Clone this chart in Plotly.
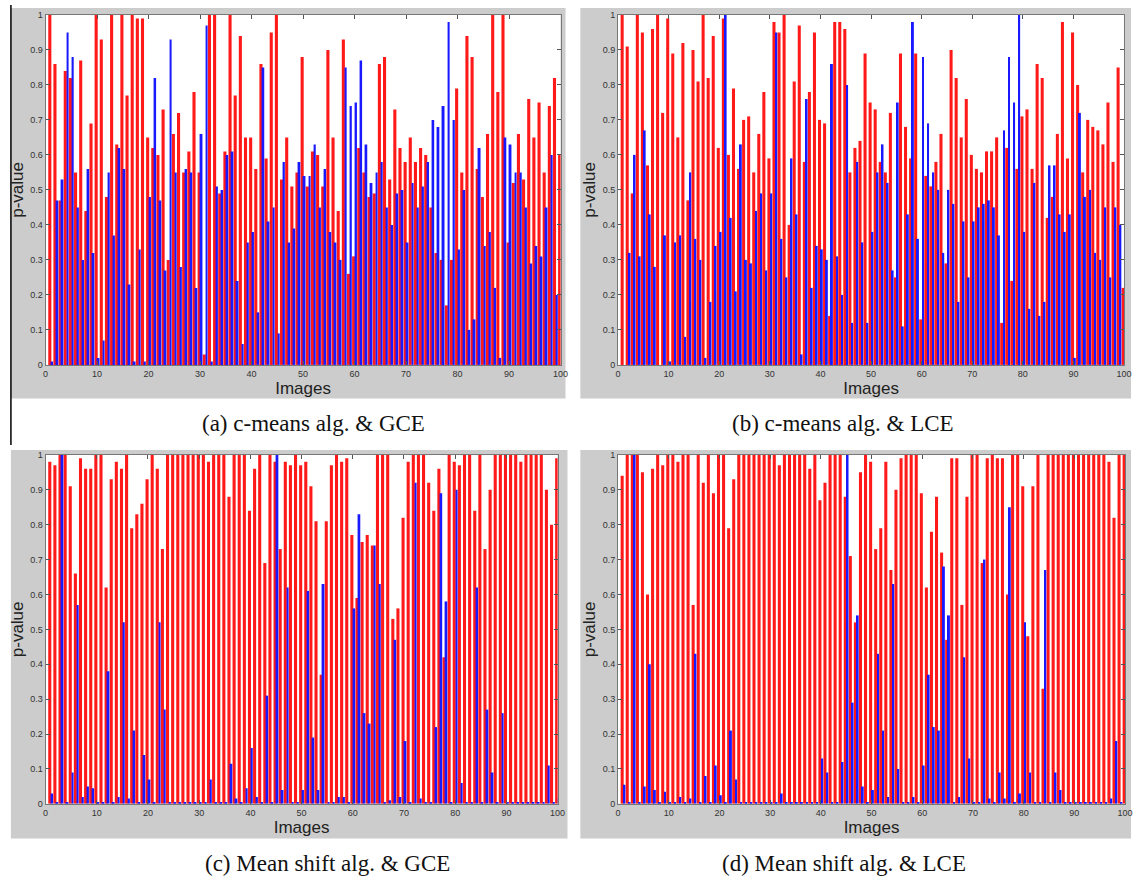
import plotly.graph_objects as go

images = list(range(1, 101))

# (a) c-means alg. & GCE
a_red = [1.0, 0.86, 0.47, 0.84, 0.82, 0.55, 0.87, 0.44, 0.69, 1.0,
         0.93, 0.48, 1.0, 0.63, 1.0, 0.77, 1.0, 0.99, 0.99, 0.65,
         0.62, 0.60, 0.73, 0.30, 0.66, 0.72, 0.55, 0.61, 0.78, 0.55,
         0.03, 1.0, 1.0, 0.49, 0.61, 1.0, 0.77, 0.94, 0.65, 0.65,
         0.56, 0.86, 0.59, 0.95, 1.0, 0.53, 0.65, 0.51, 0.55, 0.88,
         0.51, 0.61, 0.60, 0.51, 0.90, 0.65, 0.44, 0.93, 0.26, 0.31,
         0.62, 0.55, 0.48, 0.49, 0.86, 0.88, 0.53, 0.73, 0.62, 0.58,
         0.65, 0.58, 0.62, 0.60, 0.45, 0.32, 0.30, 0.17, 0.30, 0.79,
         0.55, 0.94, 0.88, 0.56, 0.48, 0.66, 1.0, 0.78, 1.0, 0.35,
         0.52, 0.66, 0.53, 0.76, 0.65, 0.75, 0.55, 0.74, 0.82, 0.60]
a_blue = [0.01, 0.47, 0.53, 0.95, 0.88, 0.45, 0.30, 0.56, 0.32, 0.02,
          0.07, 0.55, 0.37, 0.62, 0.56, 0.23, 0.01, 0.33, 0.01, 0.48,
          0.82, 0.47, 0.27, 0.93, 0.55, 0.28, 0.56, 0.55, 0.22, 0.66,
          0.97, 0.01, 0.51, 0.50, 0.60, 0.61, 0.24, 0.06, 0.35, 0.38,
          0.15, 0.85, 0.41, 0.45, 0.09, 0.58, 0.35, 0.39, 0.58, 0.54,
          0.54, 0.63, 0.45, 0.56, 0.38, 0.35, 0.30, 0.85, 0.74, 0.75,
          0.87, 0.63, 0.52, 0.55, 0.58, 0.45, 0.40, 0.49, 0.50, 0.35,
          0.52, 0.45, 0.51, 0.58, 0.70, 0.68, 0.74, 0.98, 0.70, 0.33,
          0.50, 0.10, 0.13, 0.62, 0.34, 0.38, 0.22, 0.02, 0.65, 0.63,
          0.55, 0.55, 0.45, 0.29, 0.34, 0.31, 0.45, 0.60, 0.20, 0.40]

# (b) c-means alg. & LCE
b_red = [1.0, 0.91, 0.49, 1.0, 0.95, 0.57, 0.96, 1.0, 0.72, 0.99,
         0.89, 0.65, 0.92, 0.47, 0.90, 0.81, 1.0, 0.82, 0.94, 0.62,
         0.99, 0.60, 0.79, 0.56, 0.70, 0.71, 0.55, 0.66, 0.78, 0.59,
         0.98, 0.95, 1.0, 0.40, 0.81, 0.97, 0.58, 0.78, 0.95, 0.70,
         0.69, 0.14, 0.98, 0.98, 0.96, 0.55, 0.62, 0.64, 0.89, 0.75,
         0.73, 0.58, 0.55, 0.72, 0.25, 0.89, 0.68, 0.59, 0.89, 0.13,
         0.54, 0.51, 0.58, 0.66, 0.29, 0.90, 0.82, 0.65, 0.76, 0.60,
         0.56, 0.55, 0.61, 0.61, 0.65, 0.12, 0.62, 0.24, 0.56, 0.71,
         0.73, 0.56, 0.86, 0.82, 0.42, 0.48, 0.66, 0.98, 0.59, 0.95,
         0.80, 0.55, 0.70, 0.68, 0.67, 0.63, 0.75, 0.58, 0.85, 0.22]
b_blue = [0.0, 0.32, 0.60, 0.31, 0.67, 0.43, 0.28, 0.0, 0.37, 0.01,
          0.35, 0.37, 0.08, 0.55, 0.36, 0.30, 0.02, 0.18, 0.34, 0.38,
          1.0, 0.42, 0.21, 0.63, 0.30, 0.29, 0.44, 0.49, 0.27, 0.49,
          0.95, 0.36, 0.25, 0.59, 0.43, 0.03, 0.76, 0.22, 0.34, 0.33,
          0.30, 0.86, 0.31, 0.20, 0.80, 0.12, 0.58, 0.35, 0.12, 0.38,
          0.55, 0.63, 0.52, 0.27, 0.75, 0.11, 0.43, 0.98, 0.36, 0.88,
          0.69, 0.55, 0.50, 0.32, 0.50, 0.46, 0.18, 0.41, 0.25, 0.41,
          0.45, 0.46, 0.47, 0.45, 0.37, 0.67, 0.88, 0.75, 1.0, 0.38,
          0.16, 0.52, 0.14, 0.18, 0.57, 0.57, 0.43, 0.38, 0.43, 0.02,
          0.72, 0.48, 0.50, 0.32, 0.30, 0.45, 0.25, 0.45, 0.40, 0.17]

# (c) Mean shift alg. & GCE
c_red = [0.98, 0.97, 1.0, 1.0, 0.91, 0.66, 0.99, 0.96, 0.96, 1.0,
         1.0, 0.62, 0.93, 0.98, 0.96, 1.0, 0.79, 0.83, 0.86, 0.93,
         1.0, 0.96, 0.73, 1.0, 1.0, 1.0, 1.0, 1.0, 1.0, 1.0,
         1.0, 0.98, 1.0, 1.0, 1.0, 0.88, 1.0, 1.0, 1.0, 0.84,
         0.96, 1.0, 0.69, 1.0, 0.98, 0.73, 0.98, 0.97, 1.0, 0.97,
         0.98, 0.91, 0.81, 0.37, 0.81, 0.97, 1.0, 0.98, 0.99, 0.77,
         0.59, 0.75, 0.77, 0.74, 1.0, 1.0, 1.0, 0.53, 0.56, 0.82,
         0.98, 1.0, 1.0, 1.0, 0.92, 0.84, 0.96, 0.42, 1.0, 0.98,
         0.97, 1.0, 1.0, 0.84, 1.0, 0.73, 0.90, 1.0, 1.0, 1.0,
         1.0, 1.0, 0.98, 1.0, 1.0, 1.0, 1.0, 0.90, 0.80, 0.99]
c_blue = [0.03, 0.005, 1.0, 0.005, 0.09, 0.57, 0.02, 0.05, 0.045, 0.005,
          0.005, 0.38, 0.005, 0.02, 0.52, 0.015, 0.21, 0.005, 0.14, 0.07,
          0.005, 0.52, 0.27, 0.005, 0.005, 0.005, 0.005, 0.005, 0.005, 0.005,
          0.005, 0.07, 0.005, 0.005, 0.005, 0.115, 0.015, 0.005, 0.045, 0.16,
          0.02, 0.005, 0.31, 0.005, 1.0, 0.04, 0.62, 0.005, 0.005, 0.04,
          0.61, 0.19, 0.04, 0.63, 0.005, 0.005, 0.02, 0.02, 0.005, 0.56,
          0.83, 0.26, 0.23, 0.74, 0.63, 0.005, 0.01, 0.47, 0.02, 0.18,
          0.005, 0.92, 0.015, 0.005, 0.005, 0.22, 0.89, 0.58, 0.005, 0.90,
          0.06, 0.005, 0.005, 0.62, 0.005, 0.27, 0.09, 0.005, 0.26, 0.005,
          0.005, 0.005, 0.005, 0.005, 0.005, 0.005, 0.005, 0.11, 0.005, 0.015]

# (d) Mean shift alg. & LCE
d_red = [0.94, 1.0, 1.0, 1.0, 0.95, 0.60, 0.96, 1.0, 0.97, 1.0,
         1.0, 0.98, 1.0, 1.0, 0.57, 1.0, 0.92, 1.0, 0.89, 1.0,
         1.0, 0.79, 0.93, 1.0, 1.0, 1.0, 1.0, 1.0, 1.0, 1.0,
         1.0, 0.97, 1.0, 1.0, 1.0, 1.0, 1.0, 0.96, 1.0, 0.87,
         0.92, 1.0, 1.0, 1.0, 0.88, 0.71, 0.52, 0.95, 1.0, 0.98,
         0.73, 0.79, 0.98, 0.67, 0.90, 0.99, 1.0, 1.0, 1.0, 0.89,
         0.62, 0.78, 0.88, 0.72, 0.47, 0.99, 0.99, 0.57, 0.88, 1.0,
         1.0, 0.69, 0.99, 1.0, 0.99, 0.99, 0.60, 1.0, 1.0, 0.91,
         0.48, 0.91, 1.0, 0.33, 1.0, 1.0, 1.0, 1.0, 1.0, 1.0,
         1.0, 1.0, 1.0, 1.0, 1.0, 1.0, 0.98, 0.82, 1.0, 1.0]
d_blue = [0.055, 0.005, 1.0, 0.005, 0.05, 0.40, 0.04, 0.005, 0.035, 0.005,
          0.005, 0.02, 0.005, 0.015, 0.43, 0.005, 0.08, 0.005, 0.11, 0.025,
          0.005, 0.21, 0.07, 0.005, 0.005, 0.005, 0.005, 0.005, 0.005, 0.005,
          0.005, 0.03, 0.005, 0.005, 0.005, 0.005, 0.005, 0.005, 0.005, 0.13,
          0.09, 0.005, 0.005, 0.12, 1.0, 0.29, 0.54, 0.05, 0.005, 0.04,
          0.43, 0.21, 0.02, 0.63, 0.10, 0.005, 0.005, 0.02, 0.005, 0.11,
          0.37, 0.22, 0.21, 0.68, 0.54, 0.005, 0.02, 0.42, 0.13, 0.005,
          0.005, 0.70, 0.015, 0.005, 0.09, 0.015, 0.85, 0.005, 0.03, 0.52,
          0.09, 0.005, 0.005, 0.67, 0.005, 0.09, 0.04, 0.005, 0.005, 0.005,
          0.005, 0.005, 0.005, 0.005, 0.005, 0.005, 0.015, 0.18, 0.005, 0.01]

captions = ["(a) c-means alg. &amp; GCE", "(b) c-means alg. &amp; LCE",
            "(c) Mean shift alg. &amp; GCE", "(d) Mean shift alg. &amp; LCE"]
y_ticks = [0, 0.1, 0.2, 0.3, 0.4, 0.5, 0.6, 0.7, 0.8, 0.9, 1]
y_tick_text = ["0", "0.1", "0.2", "0.3", "0.4", "0.5", "0.6", "0.7", "0.8", "0.9", "1"]
x_ticks = [0, 10, 20, 30, 40, 50, 60, 70, 80, 90, 100]

W, H = 1139, 884
def px(x):
    return x / W
def py(y):
    return 1 - y / H

panels = [
    # data, plot box (px), gray box (px), caption center (px)
    (a_red, a_blue, (43, 563, 10, 364), (8, 568, 3, 398), (314, 423)),
    (b_red, b_blue, (621, 1132, 10, 364), (583, 1139, 3, 398), (848, 423)),
    (c_red, c_blue, (43, 560, 455, 808), (8, 570, 450, 843), (328, 868)),
    (d_red, d_blue, (621, 1133, 455, 808), (583, 1139, 450, 843), (849, 868)),
]

fig = go.Figure()
shapes = []
annotations = []
layout_axes = {}
tick_font = dict(family="Liberation Sans, Arial", size=9, color="#333")
title_font = dict(family="Liberation Sans, Arial", size=17, color="#222")
for k, (red, blue, box, gray, cap) in enumerate(panels):
    n = k + 1
    xa = "x" if n == 1 else f"x{n}"
    ya = "y" if n == 1 else f"y{n}"
    fig.add_trace(go.Bar(x=images, y=red, marker=dict(color="rgb(255,25,25)", line=dict(width=0)),
                         offset=-0.48, width=0.6,
                         xaxis=xa, yaxis=ya, showlegend=False))
    fig.add_trace(go.Bar(x=images, y=blue, marker=dict(color="rgb(25,25,255)", line=dict(width=0)),
                         offset=0.08, width=0.38,
                         xaxis=xa, yaxis=ya, showlegend=False))
    x0, x1, y0, y1 = box
    xkey = "xaxis" if n == 1 else f"xaxis{n}"
    ykey = "yaxis" if n == 1 else f"yaxis{n}"
    layout_axes[xkey] = dict(
        domain=[px(x0), px(x1)], anchor=ya, range=[0, 100], tickvals=x_ticks,
        ticks="inside", ticklen=4, tickcolor="#555", showline=True, linecolor="#777",
        linewidth=1, mirror="ticks", showgrid=False, zeroline=False, tickfont=tick_font,
        title=dict(text="Images", font=title_font, standoff=0),
    )
    layout_axes[ykey] = dict(
        domain=[py(y1), py(y0)], anchor=xa, range=[0, 1], tickvals=y_ticks, ticktext=y_tick_text,
        ticks="inside", ticklen=4, tickcolor="#555", showline=True, linecolor="#777",
        linewidth=1, mirror="ticks", showgrid=False, zeroline=False, tickfont=tick_font,
        title=dict(text="p-value", font=title_font, standoff=2),
    )
    gx0, gx1, gy0, gy1 = gray
    shapes.append(dict(type="rect", xref="paper", yref="paper", x0=px(gx0), x1=px(gx1),
                       y0=py(gy1), y1=py(gy0), fillcolor="#cccccc", line=dict(width=0), layer="below"))
    shapes.append(dict(type="rect", xref="paper", yref="paper", x0=px(x0), x1=px(x1),
                       y0=py(y1), y1=py(y0), fillcolor="white", line=dict(width=0), layer="below"))
    annotations.append(dict(text=captions[k], xref="paper", yref="paper", x=px(cap[0]), y=py(cap[1]),
                            showarrow=False, xanchor="center", yanchor="middle",
                            font=dict(family="Liberation Serif, DejaVu Serif, serif", size=23, color="#111")))

shapes.append(dict(type="line", xref="paper", yref="paper", x0=px(8), x1=px(8), y0=py(445), y1=py(0),
                   line=dict(color="black", width=1.5)))

fig.update_layout(
    width=W, height=H, margin=dict(l=0, r=0, t=0, b=0),
    paper_bgcolor="white", plot_bgcolor="rgba(0,0,0,0)",
    barmode="overlay",
    shapes=shapes, annotations=annotations, showlegend=False,
    **layout_axes,
)

fig.write_html("out.html", config={"displayModeBar": False},
               post_script="document.body.style.margin='0px';document.body.style.overflow='hidden';")
